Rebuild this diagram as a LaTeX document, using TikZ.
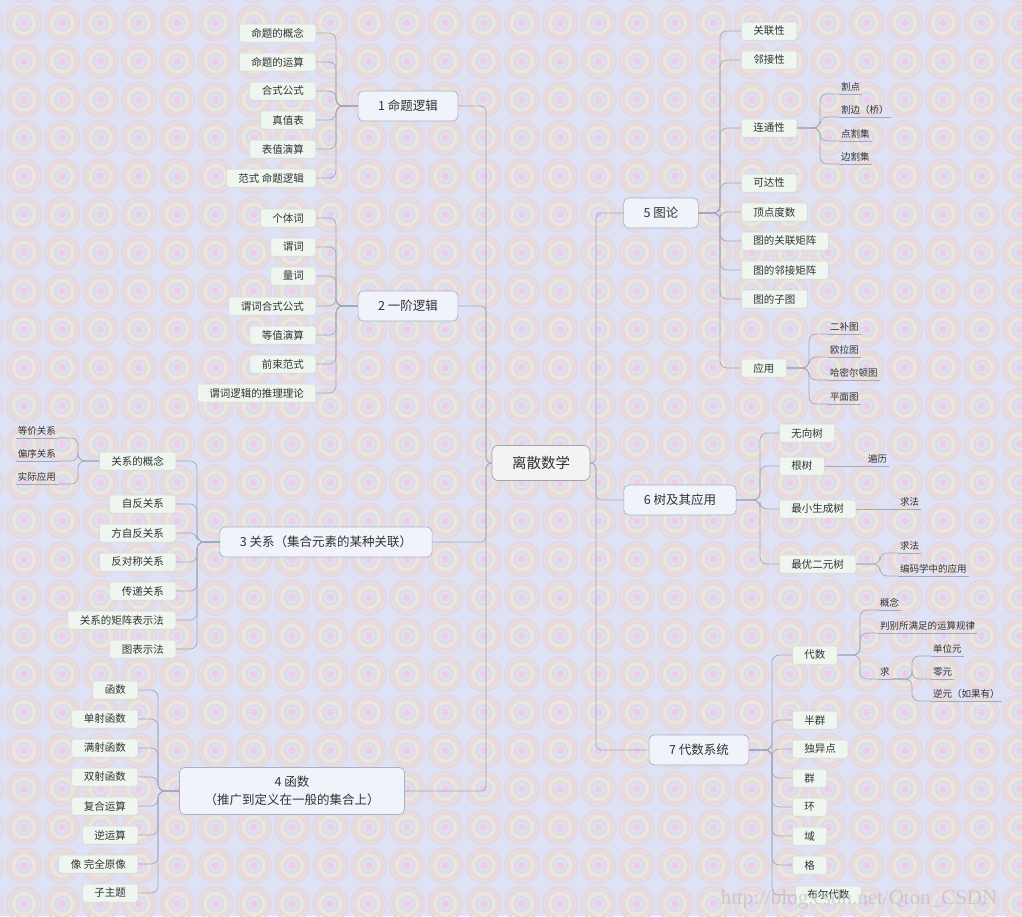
\documentclass[tikz,border=0pt]{standalone}
\usepackage{fontspec}
\setmainfont{Noto Sans CJK SC}
\newfontfamily\wmfont{Liberation Serif}
\definecolor{bgcol}{HTML}{DFE2F4}
\definecolor{ringA}{HTML}{E6D5D8}
\definecolor{ringB}{HTML}{F4D3C0}
\definecolor{ringC}{HTML}{F3EBC9}
\definecolor{ringD}{HTML}{E3D6DC}
\definecolor{ringE}{HTML}{F3C5DC}
\colorlet{ringa}{ringA!70!bgcol}
\colorlet{ringb}{ringB!65!bgcol}
\colorlet{ringc}{ringC!65!bgcol}
\colorlet{ringd}{ringD!70!bgcol}
\colorlet{ringe}{ringE!70!bgcol}
\definecolor{subfill}{HTML}{EFF6F0}
\definecolor{subdraw}{HTML}{CCD8CE}
\definecolor{topfill}{HTML}{F0F3FA}
\definecolor{topdraw}{HTML}{A9B2C4}
\definecolor{rootfill}{HTML}{F3F3F5}
\definecolor{rootdraw}{HTML}{A0A4AE}
\definecolor{conncol}{HTML}{A3A9B8}
\definecolor{txt}{HTML}{333333}
\newcommand\lnk[3]{\draw[conn] (#1) -- (#1 -| #2) |- (#3);}
\begin{document}
\begin{tikzpicture}[x=1pt,y=-1pt,
  rootbox/.style={draw=rootdraw, fill=rootfill, rounded corners=6pt, line width=0.8pt,
    minimum width=98pt, minimum height=35pt, inner sep=0pt, font=\fontsize{14.5}{17}\selectfont, text=txt},
  topic/.style={draw=topdraw, fill=topfill, rounded corners=5pt, line width=0.7pt,
    minimum height=30pt, inner xsep=20pt, inner ysep=0pt, font=\fontsize{12.5}{15}\selectfont, text=txt},
  sub/.style={draw=subdraw, fill=subfill, rounded corners=2pt, line width=0.5pt,
    minimum height=18pt, inner xsep=12pt, inner ysep=0pt, font=\fontsize{10.5}{12}\selectfont, text=txt},
  leaf/.style={inner xsep=2pt, inner ysep=0pt, minimum height=14pt, font=\fontsize{9.5}{11}\selectfont, text=txt},
  conn/.style={draw=conncol, line width=0.7pt, rounded corners=7pt},
  uline/.style={draw=conncol, line width=0.7pt},
]
\useasboundingbox (0,0) rectangle (1022,916);
% background
\fill[bgcol] (0,0) rectangle (1022,916);
\begin{scope}
\clip (0,0) rectangle (1022,916);
\draw[ringa, line width=2.4pt] \foreach \i in {-1,...,26} {\foreach \j in {-1,...,24} {({24+38.3*\i},{23+38.3*\j}) circle[radius=17.2pt]}};
\draw[ringb, line width=2.4pt] \foreach \i in {-1,...,26} {\foreach \j in {-1,...,24} {({24+38.3*\i},{23+38.3*\j}) circle[radius=13.8pt]}};
\draw[ringc, line width=2.4pt] \foreach \i in {-1,...,26} {\foreach \j in {-1,...,24} {({24+38.3*\i},{23+38.3*\j}) circle[radius=10.4pt]}};
\draw[ringd, line width=2.2pt] \foreach \i in {-1,...,26} {\foreach \j in {-1,...,24} {({24+38.3*\i},{23+38.3*\j}) circle[radius=7pt]}};
\fill[ringe] \foreach \i in {-1,...,26} {\foreach \j in {-1,...,24} {({24+38.3*\i},{23+38.3*\j}) circle[radius=3.8pt]}};
\end{scope}

% trunks
\coordinate (t0L) at (486,0);
\coordinate (t0R) at (596,0);
\coordinate (t1) at (336,0);
\coordinate (t2) at (336,0);
\coordinate (t3) at (197,0);
\coordinate (t3a) at (78,0);
\coordinate (t4) at (158,0);
\coordinate (t5) at (720,0);
\coordinate (t5a) at (820,0);
\coordinate (t5b) at (809,0);
\coordinate (t6) at (760,0);
\coordinate (t6c) at (880,0);
\coordinate (t7) at (772,0);
\coordinate (t7a) at (860,0);
\coordinate (t7b) at (912,0);

% root and main topics
\node[rootbox] (root) at (541,463) {离散数学};
\node[topic] (n1) at (408,106) {1 命题逻辑};
\node[topic] (n2) at (408,306) {2 一阶逻辑};
\node[topic] (n3) at (326,542) {3 关系（集合元素的某种关联）};
\node[topic, minimum width=225pt, minimum height=47pt, align=center, font=\fontsize{12.5}{18}\selectfont] (n4) at (292,791) {4 函数\\（推广到定义在一般的集合上）};
\node[topic] (n5) at (661,213) {5 图论};
\node[topic] (n6) at (680,500) {6 树及其应用};
\node[topic] (n7) at (699,750) {7 代数系统};

% group 1
\node[sub, anchor=east] (a1) at (316,33) {命题的概念};
\node[sub, anchor=east] (a2) at (316,62) {命题的运算};
\node[sub, anchor=east] (a3) at (316,91) {合式公式};
\node[sub, anchor=east] (a4) at (316,120) {真值表};
\node[sub, anchor=east] (a5) at (316,149) {表值演算};
\node[sub, anchor=east] (a6) at (316,178) {范式 命题逻辑};
% group 2
\node[sub, anchor=east] (b1) at (316,218) {个体词};
\node[sub, anchor=east] (b2) at (316,247) {谓词};
\node[sub, anchor=east] (b3) at (316,276) {量词};
\node[sub, anchor=east] (b4) at (316,306) {谓词合式公式};
\node[sub, anchor=east] (b5) at (316,335) {等值演算};
\node[sub, anchor=east] (b6) at (316,364) {前束范式};
\node[sub, anchor=east] (b7) at (316,393) {谓词逻辑的推理理论};
% group 3
\node[sub, anchor=east] (c1) at (176,461) {关系的概念};
\node[sub, anchor=east] (c2) at (176,504) {自反关系};
\node[sub, anchor=east] (c3) at (176,533) {方自反关系};
\node[sub, anchor=east] (c4) at (176,562) {反对称关系};
\node[sub, anchor=east] (c5) at (176,591) {传递关系};
\node[sub, anchor=east] (c6) at (176,620) {关系的矩阵表示法};
\node[sub, anchor=east] (c7) at (176,649) {图表示法};
\node[leaf, anchor=south east] (c1a) at (58,438) {等价关系};
\node[leaf, anchor=south east] (c1b) at (58,461) {偏序关系};
\node[leaf, anchor=south east] (c1c) at (58,484) {实际应用};
% group 4
\node[sub, anchor=east] (d1) at (138,690) {函数};
\node[sub, anchor=east] (d2) at (138,719) {单射函数};
\node[sub, anchor=east] (d3) at (138,748) {满射函数};
\node[sub, anchor=east] (d4) at (138,777) {双射函数};
\node[sub, anchor=east] (d5) at (138,806) {复合运算};
\node[sub, anchor=east] (d6) at (138,835) {逆运算};
\node[sub, anchor=east] (d7) at (138,864) {像 完全原像};
\node[sub, anchor=east] (d8) at (138,893) {子主题};
% group 5
\node[sub, anchor=west] (e1) at (741,31) {关联性};
\node[sub, anchor=west] (e2) at (741,60) {邻接性};
\node[sub, anchor=west] (e3) at (741,128) {连通性};
\node[sub, anchor=west] (e4) at (741,183) {可达性};
\node[sub, anchor=west] (e5) at (741,212) {顶点度数};
\node[sub, anchor=west] (e6) at (741,241) {图的关联矩阵};
\node[sub, anchor=west] (e7) at (741,270) {图的邻接矩阵};
\node[sub, anchor=west] (e8) at (741,299) {图的子图};
\node[sub, anchor=west] (e9) at (741,368) {应用};
\node[leaf, anchor=south west] (e3a) at (839,94) {割点};
\node[leaf, anchor=south west] (e3b) at (839,117) {割边（桥）};
\node[leaf, anchor=south west] (e3c) at (839,141) {点割集};
\node[leaf, anchor=south west] (e3d) at (839,164) {边割集};
\node[leaf, anchor=south west] (e9a) at (828,334) {二补图};
\node[leaf, anchor=south west] (e9b) at (828,357) {欧拉图};
\node[leaf, anchor=south west] (e9c) at (828,380) {哈密尔顿图};
\node[leaf, anchor=south west] (e9d) at (828,404) {平面图};
% group 6
\node[sub, anchor=west] (f1) at (779,433) {无向树};
\node[sub, anchor=west] (f2) at (779,466) {根树};
\node[sub, anchor=west] (f3) at (779,509) {最小生成树};
\node[sub, anchor=west] (f4) at (779,564) {最优二元树};
\node[leaf, anchor=south west] (f2a) at (866,466) {遍历};
\node[leaf, anchor=south west] (f3a) at (898,509) {求法};
\node[leaf, anchor=south west] (f4a) at (898,553) {求法};
\node[leaf, anchor=south west] (f4b) at (898,576) {编码学中的应用};
% group 7
\node[sub, anchor=west] (g1) at (792,655) {代数};
\node[sub, anchor=west] (g2) at (792,720) {半群};
\node[sub, anchor=west] (g3) at (792,749) {独异点};
\node[sub, anchor=west] (g4) at (792,778) {群};
\node[sub, anchor=west] (g5) at (792,807) {环};
\node[sub, anchor=west] (g6) at (792,836) {域};
\node[sub, anchor=west] (g7) at (792,865) {格};
\node[sub, anchor=west] (g8) at (795,895) {布尔代数};
\node[leaf, anchor=south west] (g1a) at (878,610) {概念};
\node[leaf, anchor=south west] (g1b) at (878,633) {判别所满足的运算规律};
\node[leaf, anchor=south west] (g1c) at (878,679) {求};
\node[leaf, anchor=south west] (g1c1) at (931,656) {单位元};
\node[leaf, anchor=south west] (g1c2) at (931,679) {零元};
\node[leaf, anchor=south west] (g1c3) at (931,701) {逆元（如果有）};

% connectors
\foreach \n in {n1,n2,n3,n4} {\draw[conn, rounded corners=5pt] (root.west) -- (root.west -| t0L) |- (\n.east);}
\foreach \n in {n5,n6,n7} {\draw[conn, rounded corners=5pt] (root.east) -- (root.east -| t0R) |- (\n.west);}
\foreach \c in {a1,a2,a3,a4,a5,a6} {\lnk{n1.west}{t1}{\c.east}}
\foreach \c in {b1,b2,b3,b4,b5,b6,b7} {\lnk{n2.west}{t2}{\c.east}}
\foreach \c in {c1,c2,c3,c4,c5,c6,c7} {\lnk{n3.west}{t3}{\c.east}}
\foreach \c in {c1a,c1b,c1c} {\lnk{c1.west}{t3a}{\c.south east}}
\foreach \c in {d1,d2,d3,d4,d5,d6,d7,d8} {\lnk{n4.west}{t4}{\c.east}}
\foreach \c in {e1,e2,e3,e4,e5,e6,e7,e8,e9} {\lnk{n5.east}{t5}{\c.west}}
\foreach \c in {e3a,e3b,e3c,e3d} {\lnk{e3.east}{t5a}{\c.south west}}
\foreach \c in {e9a,e9b,e9c,e9d} {\lnk{e9.east}{t5b}{\c.south west}}
\foreach \c in {f1,f2,f3,f4} {\lnk{n6.east}{t6}{\c.west}}
\draw[conn] (f2.east) -- (f2a.south west);
\draw[conn] (f3.east) -- (f3a.south west);
\foreach \c in {f4a,f4b} {\lnk{f4.east}{t6c}{\c.south west}}
\foreach \c in {g1,g2,g3,g4,g5,g6,g7,g8} {\lnk{n7.east}{t7}{\c.west}}
\foreach \c in {g1a,g1b,g1c} {\lnk{g1.east}{t7a}{\c.south west}}
\foreach \c in {g1c1,g1c2,g1c3} {\lnk{g1c.south east}{t7b}{\c.south west}}
% underlines
\foreach \c in {c1a,c1b,c1c,e3a,e3b,e3c,e3d,e9a,e9b,e9c,e9d,f2a,f3a,f4a,f4b,g1a,g1b,g1c,g1c1,g1c2,g1c3}
  {\draw[uline] (\c.south west) -- (\c.south east);}

% watermark
\node[font=\wmfont\fontsize{21}{24}\selectfont, text=gray!55, opacity=0.6, anchor=base] (wm) at (859,904) {http://blog.csdn.net/Qton\_CSDN};
\end{tikzpicture}
\end{document}
